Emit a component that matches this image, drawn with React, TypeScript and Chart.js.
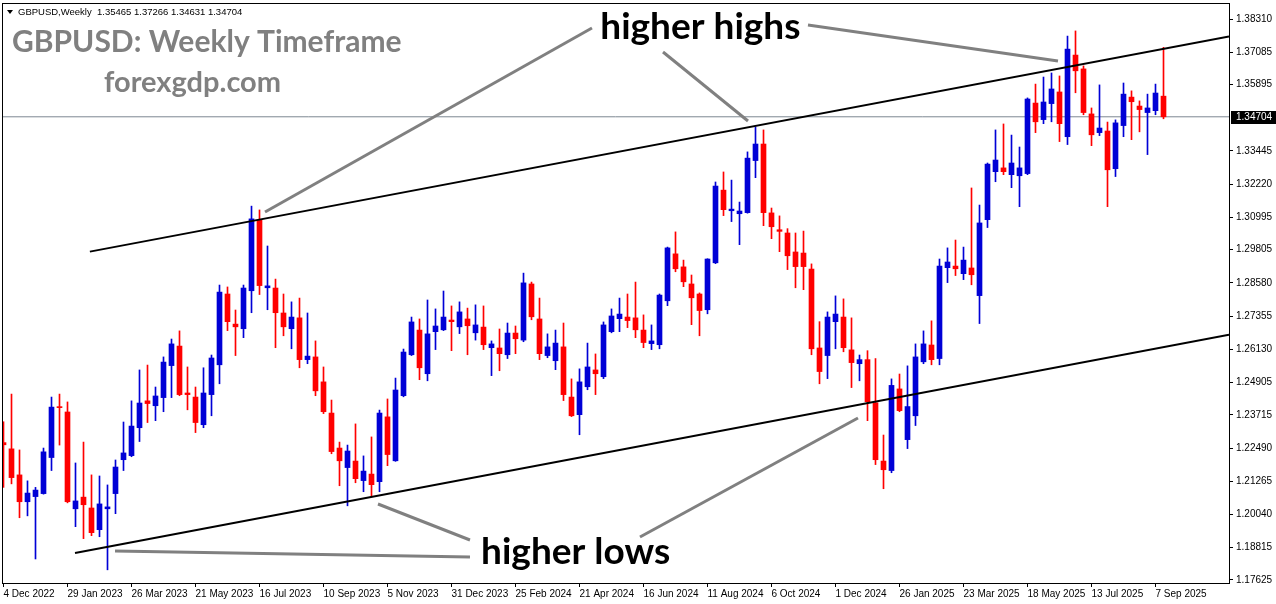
import React, { useEffect, useRef } from "react";
import { Chart, registerables } from "chart.js";

Chart.register(...registerables);

// ---- data ----
const tickDates = [
  "4 Dec 2022", "29 Jan 2023", "26 Mar 2023", "21 May 2023", "16 Jul 2023", "10 Sep 2023",
  "5 Nov 2023", "31 Dec 2023", "25 Feb 2024", "21 Apr 2024", "16 Jun 2024", "11 Aug 2024",
  "6 Oct 2024", "1 Dec 2024", "26 Jan 2025", "23 Mar 2025", "18 May 2025", "13 Jul 2025", "7 Sep 2025",
];
const tickWeeks = [0, 8, 16, 24, 32, 40, 48, 56, 64, 72, 80, 88, 96, 104, 112, 120, 128, 136, 144];

const priceTicks = [
  1.3831, 1.37085, 1.35895, 1.33445, 1.3222, 1.30995, 1.29805, 1.2858, 1.27355,
  1.2613, 1.24905, 1.23715, 1.2249, 1.21265, 1.2004, 1.18815, 1.17625,
];
const currentPrice = 1.34704;
const infoText = "GBPUSD,Weekly  1.35465 1.37266 1.34631 1.34704";

const opens = [
  1.2269, 1.2246, 1.2150, 1.2051, 1.2070, 1.2081, 1.2214, 1.2400, 1.2382, 1.2025,
  1.2068, 1.2028, 1.1948, 1.2025, 1.2081, 1.2206, 1.2221, 1.2324, 1.2423, 1.2405,
  1.2435, 1.2553, 1.2625, 1.2452, 1.2437, 1.2335, 1.2446, 1.2556, 1.2817, 1.2706,
  1.2689, 1.2829, 1.3090, 1.2840, 1.2839, 1.2747, 1.2689, 1.2729, 1.2575, 1.2585,
  1.2493, 1.2378, 1.2249, 1.2177, 1.2201, 1.2129, 1.2153, 1.2125, 1.2364, 1.2202,
  1.2442, 1.2593, 1.2684, 1.2523, 1.2678, 1.2685, 1.2721, 1.2696, 1.2725, 1.2674,
  1.2695, 1.2619, 1.2618, 1.2593, 1.2673, 1.2647, 1.2854, 1.2725, 1.2590, 1.2571,
  1.2622, 1.2437, 1.2372, 1.2475, 1.2537, 1.2512, 1.2678, 1.2726, 1.2732, 1.2729,
  1.2684, 1.2634, 1.2630, 1.2792, 1.2965, 1.2917, 1.2854, 1.2817, 1.2759, 1.2932,
  1.3200, 1.3124, 1.3113, 1.3117, 1.3309, 1.3370, 1.3116, 1.3054, 1.3042, 1.2972,
  1.2968, 1.2909, 1.2618, 1.2590, 1.2715, 1.2732, 1.2611, 1.2560, 1.2575, 1.2416,
  1.2201, 1.2166, 1.2467, 1.2280, 1.2368, 1.2567, 1.2629, 1.2579, 1.2914, 1.2920,
  1.2892, 1.2913, 1.2811, 1.3091, 1.3268, 1.3282, 1.3257, 1.3253, 1.3261, 1.3521,
  1.3460, 1.3519, 1.3562, 1.3397, 1.3698, 1.3647, 1.3481, 1.3412, 1.3418, 1.3279,
  1.3438, 1.3543, 1.3510, 1.3486, 1.3493, 1.35465,
];
const highs = [
  1.2346, 1.2448, 1.2242, 1.2128, 1.2104, 1.2249, 1.2437, 1.2448, 1.2419, 1.2194,
  1.2271, 1.2150, 1.2146, 1.2113, 1.2205, 1.2345, 1.2423, 1.2537, 1.2555, 1.2474,
  1.2585, 1.2651, 1.2681, 1.2548, 1.2474, 1.2545, 1.2592, 1.2850, 1.2843, 1.2758,
  1.2850, 1.3141, 1.3127, 1.2994, 1.2872, 1.2817, 1.2788, 1.2802, 1.2747, 1.2644,
  1.2548, 1.2426, 1.2271, 1.2260, 1.2338, 1.2220, 1.2290, 1.2389, 1.2430, 1.2507,
  1.2614, 1.2732, 1.2725, 1.2795, 1.2762, 1.2828, 1.2773, 1.2788, 1.2765, 1.2777,
  1.2773, 1.2644, 1.2688, 1.2710, 1.2699, 1.2894, 1.2861, 1.2802, 1.2670, 1.2684,
  1.2710, 1.2504, 1.2541, 1.2636, 1.2596, 1.2714, 1.2762, 1.2802, 1.2817, 1.2861,
  1.2740, 1.2703, 1.2817, 1.2990, 1.3046, 1.2942, 1.2887, 1.2821, 1.2947, 1.3230,
  1.3267, 1.3237, 1.3156, 1.3341, 1.3433, 1.3422, 1.3134, 1.3105, 1.3058, 1.3042,
  1.3049, 1.2928, 1.2715, 1.2751, 1.2810, 1.2799, 1.2729, 1.2592, 1.2608, 1.2579,
  1.2297, 1.2504, 1.2522, 1.2552, 1.2633, 1.2681, 1.2718, 1.2946, 1.2987, 1.3016,
  1.2990, 1.3208, 1.3145, 1.3300, 1.3422, 1.3444, 1.3403, 1.3359, 1.3540, 1.3591,
  1.3617, 1.3632, 1.3621, 1.3768, 1.3787, 1.3658, 1.3503, 1.3588, 1.3451, 1.3459,
  1.3595, 1.3566, 1.3529, 1.3554, 1.3591, 1.37266,
];
const lows = [
  1.2104, 1.2117, 1.1992, 1.1999, 1.1840, 1.2079, 1.2166, 1.2260, 1.2047, 1.1959,
  1.1915, 1.1926, 1.1922, 1.1800, 1.2007, 1.2166, 1.2217, 1.2273, 1.2343, 1.2350,
  1.2383, 1.2435, 1.2442, 1.2390, 1.2306, 1.2324, 1.2368, 1.2486, 1.2682, 1.2590,
  1.2656, 1.2748, 1.2815, 1.2759, 1.2619, 1.2663, 1.2615, 1.2545, 1.2560, 1.2442,
  1.2376, 1.2228, 1.2110, 1.2036, 1.2121, 1.2088, 1.2070, 1.2088, 1.2184, 1.2200,
  1.2438, 1.2590, 1.2501, 1.2497, 1.2612, 1.2682, 1.2608, 1.2671, 1.2593, 1.2647,
  1.2612, 1.2516, 1.2534, 1.2579, 1.2597, 1.2641, 1.2722, 1.2575, 1.2582, 1.2538,
  1.2424, 1.2365, 1.2298, 1.2464, 1.2446, 1.2505, 1.2674, 1.2678, 1.2693, 1.2656,
  1.2619, 1.2612, 1.2615, 1.2774, 1.2899, 1.2844, 1.2704, 1.2663, 1.2744, 1.2929,
  1.3106, 1.3084, 1.2999, 1.3115, 1.3246, 1.3069, 1.3021, 1.2973, 1.2907, 1.2840,
  1.2833, 1.2593, 1.2486, 1.2505, 1.2615, 1.2604, 1.2472, 1.2497, 1.2350, 1.2188,
  1.2099, 1.2158, 1.2383, 1.2247, 1.2332, 1.2560, 1.2556, 1.2556, 1.2859, 1.2885,
  1.2870, 1.2851, 1.2708, 1.3062, 1.3231, 1.3257, 1.3209, 1.3139, 1.3257, 1.3412,
  1.3445, 1.3452, 1.3379, 1.3368, 1.3559, 1.3478, 1.3364, 1.3401, 1.3139, 1.3250,
  1.3397, 1.3386, 1.3415, 1.3331, 1.3478, 1.34631,
];
const closes = [
  1.2261, 1.2140, 1.2051, 1.2083, 1.2094, 1.2235, 1.2400, 1.2398, 1.2051, 1.2054,
  1.2040, 1.1937, 1.2043, 1.2032, 1.2179, 1.2231, 1.2330, 1.2415, 1.2413, 1.2441,
  1.2566, 1.2633, 1.2446, 1.2446, 1.2343, 1.2452, 1.2581, 1.2824, 1.2715, 1.2696,
  1.2839, 1.3094, 1.2848, 1.2847, 1.2748, 1.2696, 1.2732, 1.2575, 1.2588, 1.2460,
  1.2383, 1.2236, 1.2202, 1.2238, 1.2136, 1.2164, 1.2114, 1.2378, 1.2225, 1.2463,
  1.2603, 1.2714, 1.2545, 1.2670, 1.2699, 1.2732, 1.2715, 1.2751, 1.2700, 1.2703,
  1.2630, 1.2633, 1.2597, 1.2673, 1.2652, 1.2858, 1.2733, 1.2597, 1.2622, 1.2636,
  1.2446, 1.2368, 1.2493, 1.2548, 1.2523, 1.2703, 1.2736, 1.2743, 1.2719, 1.2685,
  1.2638, 1.2644, 1.2813, 1.2987, 1.2910, 1.2862, 1.2803, 1.2756, 1.2946, 1.3215,
  1.3128, 1.3130, 1.3123, 1.3318, 1.3370, 1.3117, 1.3065, 1.3048, 1.2958, 1.2918,
  1.2918, 1.2615, 1.2531, 1.2732, 1.2743, 1.2619, 1.2564, 1.2575, 1.2420, 1.2206,
  1.2169, 1.2480, 1.2387, 1.2402, 1.2585, 1.2633, 1.2575, 1.2920, 1.2935, 1.2910,
  1.2942, 1.2888, 1.3079, 1.3296, 1.3311, 1.3268, 1.3300, 1.3282, 1.3536, 1.3452,
  1.3525, 1.3573, 1.3445, 1.3720, 1.3640, 1.3486, 1.3404, 1.3429, 1.3275, 1.3448,
  1.3554, 1.3526, 1.3497, 1.3503, 1.3558, 1.34704,
];

// channel lines (week index, price)
const upperChannel = [{ x: 10.8, y: 1.29733 }, { x: 153.19, y: 1.37661 }];
const lowerChannel = [{ x: 8.94, y: 1.1862 }, { x: 153.19, y: 1.26665 }];
// gray pointer lines (week index, price)
const pointerLines = [
  [{ x: 32.69, y: 1.31194 }, { x: 73.56, y: 1.37978 }],
  [{ x: 82.44, y: 1.37093 }, { x: 93.06, y: 1.34549 }],
  [{ x: 100.56, y: 1.38089 }, { x: 131.81, y: 1.36761 }],
  [{ x: 46.81, y: 1.20427 }, { x: 58.31, y: 1.191 }],
  [{ x: 13.94, y: 1.18694 }, { x: 58.31, y: 1.18472 }],
  [{ x: 79.56, y: 1.1921 }, { x: 106.81, y: 1.23598 }],
];
const callouts = [
  { text: "higher highs", x: 74.6, y: 1.37573 },
  { text: "higher lows", x: 59.7, y: 1.18214 },
];

const X_MIN = -0.1875;
const X_MAX = 153.1875;
const Y_MIN = 1.17514;
const Y_MAX = 1.389;
const BULL = "#0000d6";
const BEAR = "#ff0000";

const overlay = {
  id: "overlay",
  afterDraw(chart: any) {
    const { ctx, chartArea, scales } = chart;
    const xs = scales.x;
    const ys = scales.y;
    ctx.save();
    // frame
    ctx.strokeStyle = "#000";
    ctx.lineWidth = 1;
    ctx.strokeRect(chartArea.left + 0.5, chartArea.top + 0.5, chartArea.right - chartArea.left, chartArea.bottom - chartArea.top);

    // info line
    ctx.fillStyle = "#000";
    ctx.beginPath();
    ctx.moveTo(chartArea.left + 5, chartArea.top + 7);
    ctx.lineTo(chartArea.left + 11, chartArea.top + 7);
    ctx.lineTo(chartArea.left + 8, chartArea.top + 11);
    ctx.closePath();
    ctx.fill();
    ctx.font = '9.5px "Liberation Sans"';
    ctx.textBaseline = "alphabetic";
    ctx.textAlign = "left";
    ctx.fillText(infoText, chartArea.left + 16, chartArea.top + 12);

    // titles
    ctx.fillStyle = "#808080";
    ctx.font = 'bold 30px Lato';
    ctx.fillText("GBPUSD: Weekly Timeframe", chartArea.left + 10, chartArea.top + 49);
    ctx.font = 'bold 29px Lato';
    ctx.fillText("forexgdp.com", chartArea.left + 102, chartArea.top + 89);

    // callouts
    ctx.fillStyle = "#000";
    ctx.font = 'bold 37px Lato';
    callouts.forEach((c) => {
      ctx.fillText(c.text, xs.getPixelForValue(c.x), ys.getPixelForValue(c.y));
    });

    // current price tag
    const py = Math.round(ys.getPixelForValue(currentPrice));
    ctx.fillStyle = "#000";
    ctx.fillRect(chartArea.right + 2, py - 6, 47, 13);
    ctx.fillStyle = "#fff";
    ctx.font = '10px "Liberation Sans"';
    ctx.textBaseline = "middle";
    ctx.fillText(currentPrice.toFixed(5), chartArea.right + 7, py + 0.5);
    ctx.restore();
  },
};

export default function App() {
  const ref = useRef<HTMLCanvasElement>(null);
  useEffect(() => {
    const canvas = ref.current;
    if (!canvas) return;
    const idx = opens.map((_, i) => i);
    const colors = idx.map((i) => (closes[i] >= opens[i] ? BULL : BEAR));
    const lineDs = (pts: any[], color: string, width: number, order: number) => ({
      type: "line",
      data: pts,
      borderColor: color,
      borderWidth: width,
      pointRadius: 0,
      fill: false,
      tension: 0,
      order,
    });
    const chart = new Chart(canvas, {
      type: "bar",
      data: {
        datasets: [
          lineDs([{ x: X_MIN, y: currentPrice }, { x: X_MAX, y: currentPrice }], "#7d8792", 1, 10),
          {
            type: "bar",
            data: idx.map((i) => ({ x: i, y: [lows[i], highs[i]] })),
            backgroundColor: colors,
            barThickness: 1,
            grouped: false,
            order: 6,
          },
          {
            type: "bar",
            data: idx.map((i) => ({ x: i, y: [opens[i], closes[i]] })),
            backgroundColor: colors,
            barThickness: 5,
            grouped: false,
            minBarLength: 1,
            order: 5,
          },
          lineDs(upperChannel, "#000", 2, 1),
          lineDs(lowerChannel, "#000", 2, 1),
          ...pointerLines.map((p) => lineDs(p, "#808080", 3, 2)),
        ] as any,
      },
      options: {
        animation: false,
        responsive: false,
        devicePixelRatio: 1,
        events: [],
        layout: { padding: { left: 2, top: 3, right: 0, bottom: 0 } },
        plugins: { legend: { display: false }, tooltip: { enabled: false }, title: { display: false } },
        scales: {
          x: {
            type: "linear",
            min: X_MIN,
            max: X_MAX,
            offset: false,
            afterBuildTicks: (s: any) => {
              s.ticks = tickWeeks.map((v) => ({ value: v }));
            },
            afterFit: (s: any) => {
              s.height = 21;
              s.paddingLeft = 0;
              s.paddingRight = 0;
            },
            ticks: {
              autoSkip: false,
              maxRotation: 0,
              minRotation: 0,
              align: "start",
              padding: 1,
              color: "#000",
              font: { family: "Liberation Sans", size: 10 },
              callback: (v: any) => {
                const k = tickWeeks.indexOf(Number(v));
                return k >= 0 ? tickDates[k] : "";
              },
            },
            grid: { drawOnChartArea: false, drawTicks: true, tickLength: 4, color: "#000", offset: false },
            border: { display: true, color: "#000" },
          },
          y: {
            type: "linear",
            position: "right",
            min: Y_MIN,
            max: Y_MAX,
            beginAtZero: false,
            afterBuildTicks: (s: any) => {
              s.ticks = priceTicks.map((v) => ({ value: v }));
            },
            afterFit: (s: any) => {
              s.width = 47;
              s.paddingTop = 0;
              s.paddingBottom = 0;
            },
            ticks: {
              autoSkip: false,
              padding: 3,
              color: "#000",
              font: { family: "Liberation Sans", size: 10 },
              callback: (v: any) => Number(v).toFixed(5),
            },
            grid: { drawOnChartArea: false, drawTicks: true, tickLength: 4, color: "#000" },
            border: { display: true, color: "#000" },
          },
        },
      } as any,
      plugins: [overlay],
    });
    return () => chart.destroy();
  }, []);
  return (
    <div style={{ position: "fixed", left: 0, top: 0, width: 1276, height: 604, background: "#fff" }}>
      <canvas ref={ref} width={1276} height={604} style={{ display: "block" }} />
    </div>
  );
}
